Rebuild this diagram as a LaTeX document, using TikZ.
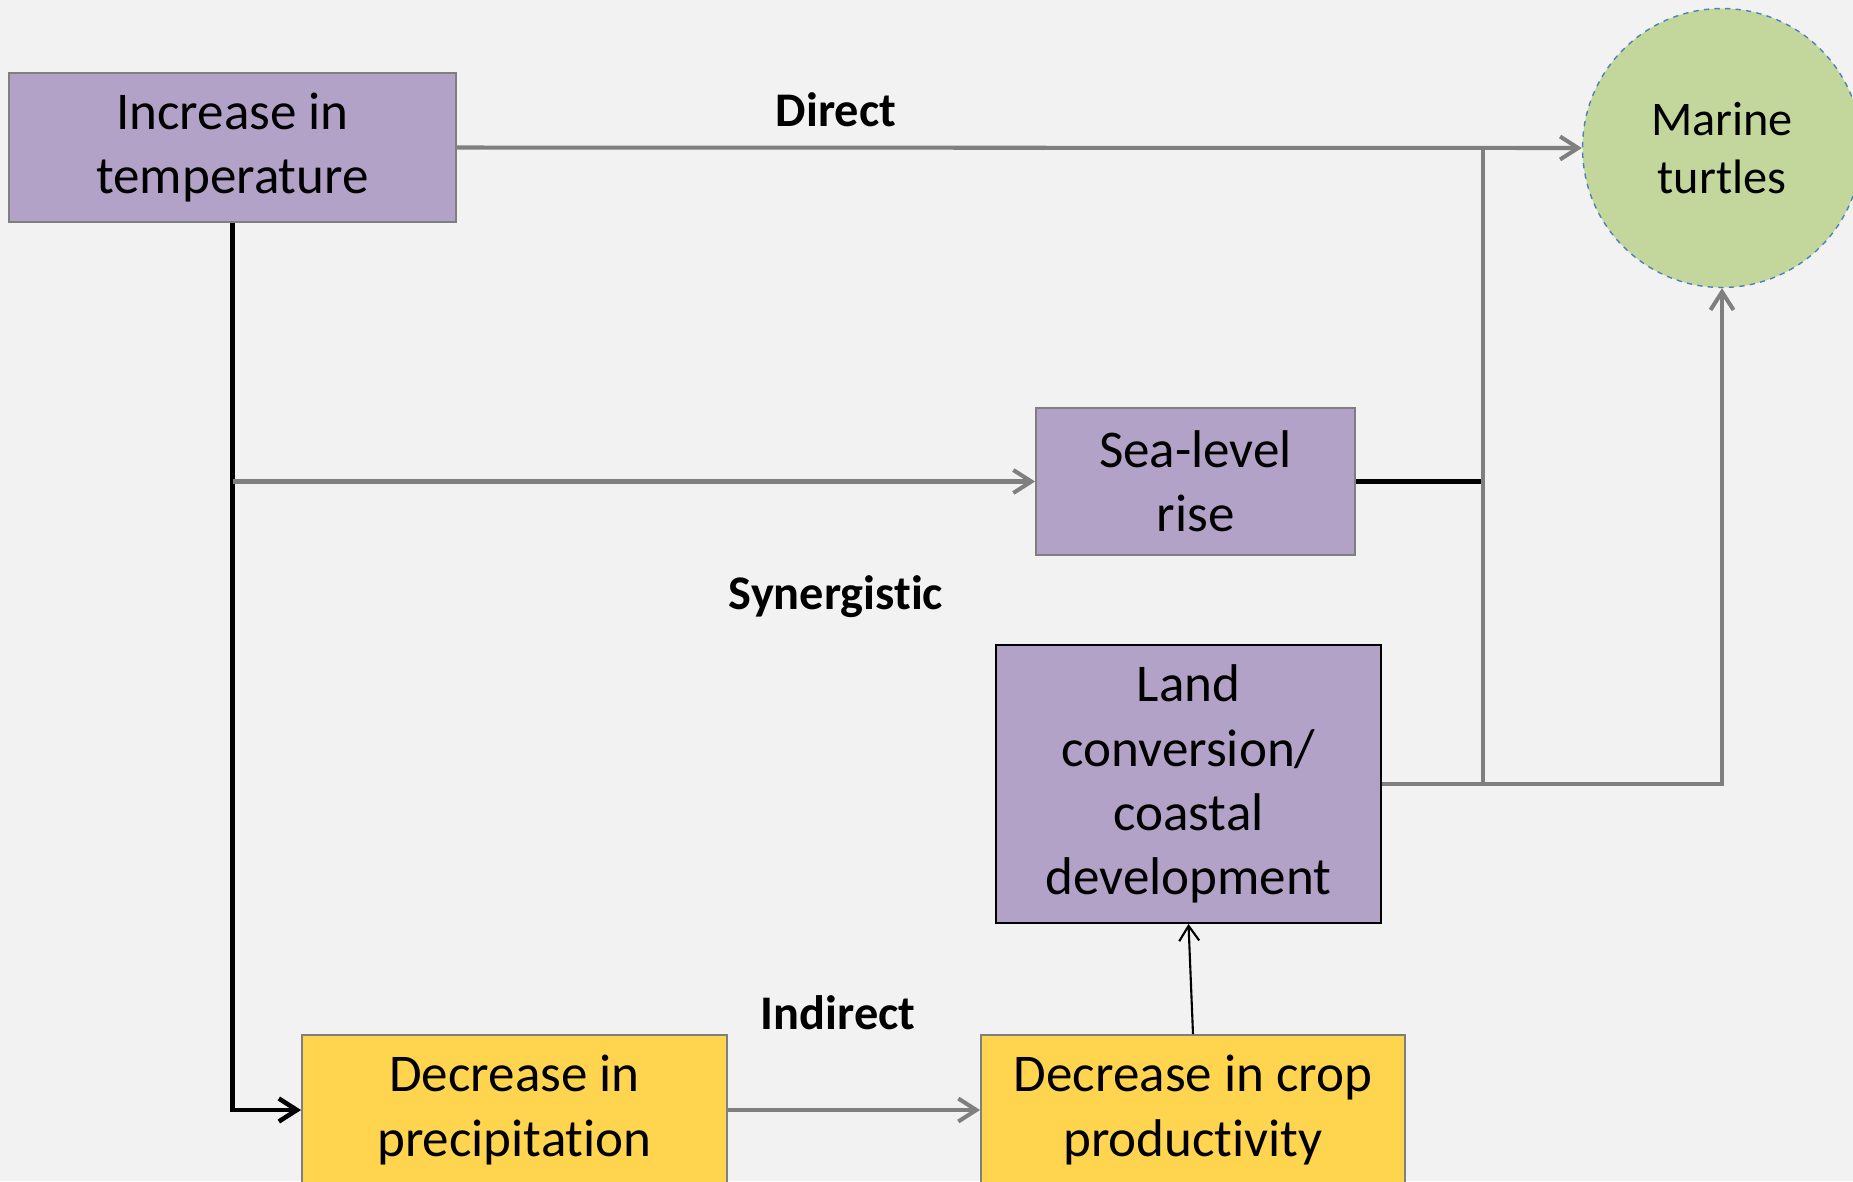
\documentclass[tikz,border=0pt]{standalone}
\usepackage{fontspec}
\setmainfont{Carlito}[Ligatures={NoCommon}]
\usetikzlibrary{arrows.meta,positioning}
\definecolor{paper}    {RGB}{242,242,242}
\definecolor{lavender} {RGB}{179,162,199}
\definecolor{leafgreen}{RGB}{195,214,155}
\definecolor{sunyellow}{RGB}{255,213, 79}
\definecolor{linegray} {RGB}{127,127,127}
\definecolor{edgeblue} {RGB}{ 79,129,189}

\begin{document}
\begin{tikzpicture}[x=0.02cm,y=-0.02cm,
  every node/.style={font=\fontsize{30.2}{36.5}\selectfont},
  driver/.style={draw=linegray,line width=1.1pt,fill=lavender,align=center,
                 inner sep=0pt},
  effect/.style={draw=linegray,line width=1.1pt,fill=sunyellow,align=center,
                 inner sep=0pt,minimum height=3.0cm},
  target/.style={circle,draw=edgeblue,dashed,line width=0.8pt,fill=leafgreen,
                 align=center,minimum size=5.58cm,
                 font=\fontsize{27.5}{33}\selectfont},
  tag/.style={font=\fontsize{27.5}{32}\selectfont\bfseries},
  arr/.style={-{Straight Barb[length=0.36cm,width=0.46cm]},linegray,line width=2.3pt},
  blkarr/.style={-{Straight Barb[length=0.36cm,width=0.46cm]},black,line width=2.6pt},
]
\useasboundingbox[fill=paper] (0,0) rectangle (1853,1181);

%% ── Drivers ────────────────────────────────────────────────────────────
\node[driver,minimum width=8.94cm,minimum height=2.98cm] (temp) at (232.5,147.5) {Increase in\\temperature};
\node[driver,minimum width=6.38cm,minimum height=2.94cm] (sea) at (1195.5,481.5) {Sea-level\\rise};
\node[driver,draw=black,minimum width=7.70cm,minimum height=5.56cm] (land) at (1188.5,784) {Land\\conversion/\\coastal\\development};
\node[target] (turtle) at (1722,148) {Marine\\turtles};

%% ── Indirect chain ─────────────────────────────────────────────────────
\node[effect,minimum width=8.50cm] (rain) at (514.5,1110) {Decrease in\\precipitation};
\node[effect,minimum width=8.48cm] (crop) at (1193,1110) {Decrease in crop\\productivity};

%% ── Pathway labels ─────────────────────────────────────────────────────
\node[tag] (direct) at (836,110) {Direct};
\node[tag] (syn) at (836,597) {Synergistic};
\node[tag] (indirect) at (838,1013) {Indirect};

%% ── Connectors ─────────────────────────────────────────────────────────
\coordinate (merge) at (1483,148);
\coordinate (fork) at (temp.south |- sea.west);
\draw[arr] (temp.east) -- (turtle.west);
\draw[blkarr] (temp.south) |- (rain.west);
\draw[arr] (fork) -- (sea.west);
\draw[black,line width=2.6pt] (sea.east) -- (sea.east -| merge);
\draw[linegray,line width=2.3pt] (land.east -| merge) -- (merge);
\draw[arr] (land.east) -| (turtle.south);
\draw[arr] (rain.east) -- (crop.west);
\draw[-{Straight Barb[length=0.3cm,width=0.4cm]},black,line width=1.2pt] (crop.north) -- (land.south);

\end{tikzpicture}
\end{document}
